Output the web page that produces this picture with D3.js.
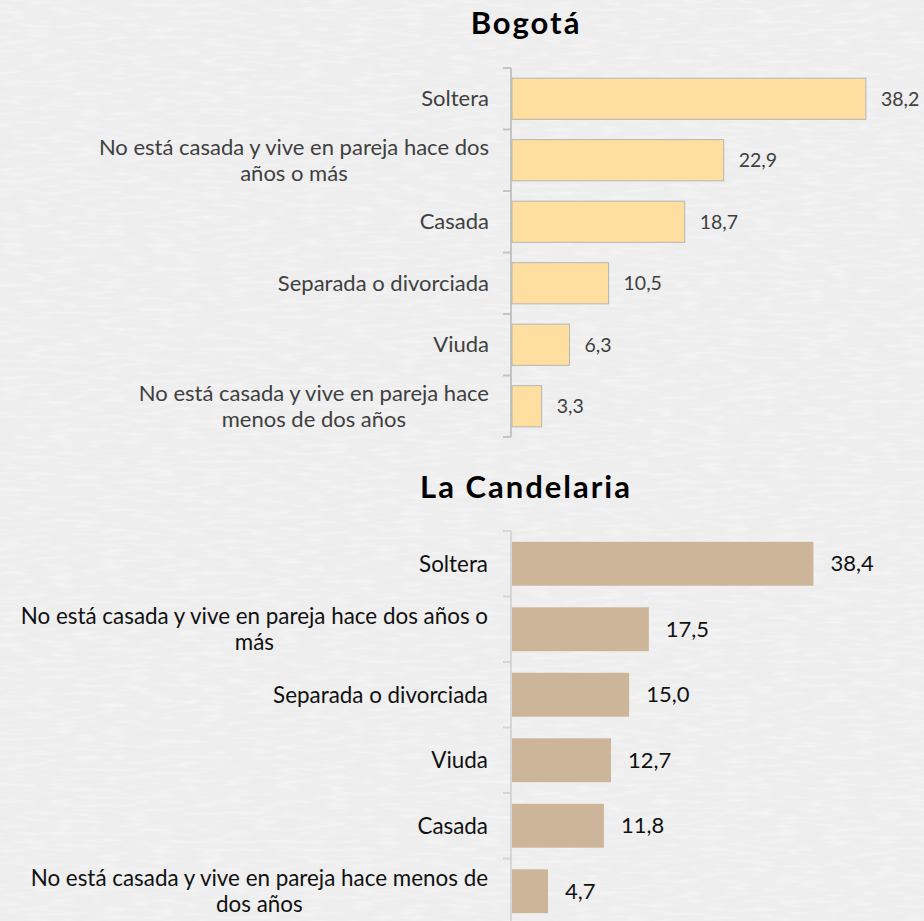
<!DOCTYPE html>
<html>
<head>
<meta charset="utf-8">
<script src="https://cdnjs.cloudflare.com/ajax/libs/d3/7.8.5/d3.min.js"></script>
<style>
  html, body { margin: 0; padding: 0; background: #efefef; }
  svg { display: block; }
</style>
</head>
<body>
<svg id="chart" width="924" height="921"></svg>
<script>
// Bogotá
const bogotaCats = [
  'Soltera',
  'No está casada y vive en pareja hace dos|años o más',
  'Casada',
  'Separada o divorciada',
  'Viuda',
  'No está casada y vive en pareja hace|menos de dos años'
]
const bogotaVals = [38.2, 22.9, 18.7, 10.5, 6.3, 3.3]

// La Candelaria
const candCats = [
  'Soltera',
  'No está casada y vive en pareja hace dos años o|más',
  'Separada o divorciada',
  'Viuda',
  'Casada',
  'No está casada y vive en pareja hace menos de|dos años'
]
const candVals = [38.4, 17.5, 15.0, 12.7, 11.8, 4.7]

const fmt = v => d3.format('.1f')(v).replace('.', ',')

const svg = d3.select('#chart')

// paper texture background
const defs = svg.append('defs')
const f = defs.append('filter').attr('id', 'paper')
  .attr('x', 0).attr('y', 0).attr('width', '100%').attr('height', '100%')
f.append('feTurbulence')
  .attr('type', 'fractalNoise')
  .attr('baseFrequency', '0.04 0.25')
  .attr('numOctaves', 2)
  .attr('seed', 7)
f.append('feColorMatrix')
  .attr('type', 'matrix')
  .attr('values', '0 0 0 0 1  0 0 0 0 1  0 0 0 0 1  0 0 0 0.9 -0.42')

svg.append('rect').attr('width', 924).attr('height', 921).attr('fill', '#eeeeee')
svg.append('rect').attr('width', 924).attr('height', 921).attr('filter', 'url(#paper)')

/**
 * draws one horizontal bar panel
 */
function drawPanel (opt) {
  const g = svg.append('g')

  const y = d3.scaleBand()
    .domain(opt.cats)
    .range(opt.yRange)
    .paddingInner(0.33)
    .paddingOuter(0.165)

  const x = d3.scaleLinear()
    .domain([0, 40])
    .range(opt.xRange)

  g.append('text')
    .attr('x', opt.titleX)
    .attr('y', opt.titleY)
    .attr('text-anchor', 'middle')
    .attr('font-family', 'Lato, sans-serif')
    .attr('font-weight', 'bold')
    .attr('font-size', 31)
    .attr('letter-spacing', 2)
    .attr('fill', '#000')
    .text(opt.title)

  // axis
  const x0 = x(0)
  const bounds = opt.cats.map(c => y(c) - y.step() * y.paddingInner() / 2)
  bounds.push(opt.yRange[1])
  g.append('line')
    .attr('x1', x0).attr('x2', x0)
    .attr('y1', opt.yRange[0]).attr('y2', opt.yRange[1])
    .attr('stroke', opt.axisColor).attr('stroke-width', 2)
  g.selectAll('.tick')
    .data(bounds)
    .enter()
    .append('line')
    .attr('class', 'tick')
    .attr('x1', x0 - 8).attr('x2', x0)
    .attr('y1', d => d).attr('y2', d => d)
    .attr('stroke', opt.axisColor).attr('stroke-width', 2)

  const rows = opt.cats.map((c, i) => ({ cat: c, val: opt.vals[i] }))

  g.selectAll('rect.bar')
    .data(rows)
    .enter()
    .append('rect')
    .attr('class', 'bar')
    .attr('x', x0 + 1)
    .attr('y', d => y(d.cat))
    .attr('width', d => x(d.val) - x0 - 1)
    .attr('height', y.bandwidth())
    .attr('fill', opt.fill)
    .attr('stroke', opt.stroke)
    .attr('stroke-width', opt.stroke === 'none' ? 0 : 1)

  g.selectAll('text.val')
    .data(rows)
    .enter()
    .append('text')
    .attr('class', 'val')
    .attr('x', d => x(d.val) + opt.valGap)
    .attr('y', d => y(d.cat) + y.bandwidth() / 2)
    .attr('dy', '0.35em')
    .attr('font-family', 'Lato, sans-serif')
    .attr('font-size', opt.valSize)
    .attr('fill', opt.valColor)
    .text(d => fmt(d.val))

  const lab = g.selectAll('text.cat')
    .data(rows)
    .enter()
    .append('text')
    .attr('class', 'cat')
    .attr('text-anchor', 'middle')
    .attr('font-family', 'Lato, sans-serif')
    .attr('font-size', opt.catSize)
    .attr('fill', opt.catColor)

  lab.each(function (d) {
    const lines = d.cat.split('|')
    const el = d3.select(this)
    const cy = y(d.cat) + y.bandwidth() / 2
    const top = cy - (lines.length - 1) * opt.lineH / 2
    // first line right-aligned; wrapped lines centered under it
    const t0 = el.append('tspan').attr('x', opt.labelRight).attr('y', top).attr('dy', '0.35em')
      .attr('text-anchor', 'end').text(lines[0])
    if (lines.length > 1) {
      const w = t0.node().getComputedTextLength()
      el.attr('text-anchor', 'middle')
      t0.attr('text-anchor', 'middle').attr('x', opt.labelRight - w / 2)
      lines.slice(1).forEach((l, k) => {
        el.append('tspan').attr('x', opt.labelRight - w / 2)
          .attr('y', top + (k + 1) * opt.lineH).attr('dy', '0.35em').text(l)
      })
    } else {
      el.attr('text-anchor', 'end')
    }
  })
}

drawPanel({
  title: 'Bogotá',
  titleX: 526,
  titleY: 34,
  cats: bogotaCats,
  vals: bogotaVals,
  yRange: [68, 437],
  xRange: [511, 882.6],
  fill: '#ffdf9f',
  stroke: '#b5b5b5',
  axisColor: '#c4c4c4',
  valGap: 15,
  valSize: 19.5,
  valColor: '#404040',
  catSize: 22,
  catColor: '#404040',
  lineH: 26,
  labelRight: 489
})

drawPanel({
  title: 'La Candelaria',
  titleX: 526,
  titleY: 498,
  cats: candCats,
  vals: candVals,
  yRange: [531, 924],
  xRange: [511, 826],
  fill: '#cdb599',
  stroke: 'none',
  axisColor: '#d6d6d6',
  valGap: 17,
  valSize: 22,
  valColor: '#111',
  catSize: 22.4,
  catColor: '#111',
  lineH: 26,
  labelRight: 488
})
</script>
</body>
</html>
